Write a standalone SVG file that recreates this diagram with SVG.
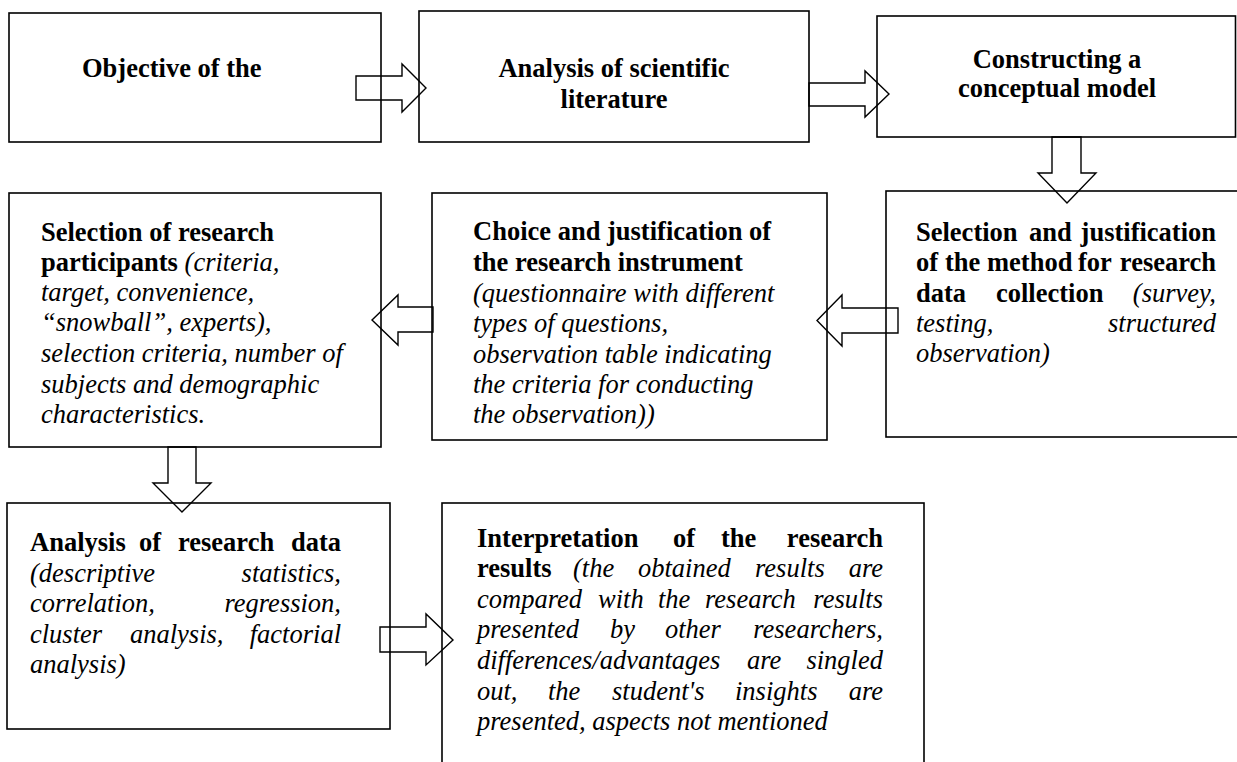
<svg xmlns="http://www.w3.org/2000/svg" width="1237" height="762" viewBox="0 0 1237 762">
<style>
.box{fill:#fff;stroke:#000;stroke-width:1.6}
.arr{fill:none;stroke:#000;stroke-width:1.4;stroke-linejoin:miter}
text{font-family:"Liberation Serif","Times New Roman",serif;font-size:26.5px;fill:#000}
.b{font-weight:bold}
.i{font-style:italic}
.m{text-anchor:middle}
.e{text-anchor:end}
</style>
<rect width="1237" height="762" fill="#fff"/>
<g id="n1"><rect class="box" x="9" y="13" width="372" height="129"/>
<text class="b" x="82" y="77">Objective of the</text></g>
<g id="n2"><rect class="box" x="419" y="11" width="390" height="131"/>
<text class="b m" x="614" y="77">Analysis of scientific</text>
<text class="b m" x="614" y="108">literature</text></g>
<g id="n3"><rect class="box" x="877" y="16" width="358.5" height="121"/>
<text class="b m" x="1057" y="68">Constructing a</text>
<text class="b m" x="1057" y="97">conceptual model</text></g>
<g id="n4"><rect class="box" x="886" y="191" width="361" height="246"/>
<text class="b" x="916" y="241">Selection</text><text class="b" x="1029" y="241">and</text><text class="b e" x="1216" y="241">justification</text>
<text class="b" x="916" y="271">of</text><text class="b" x="945" y="271">the</text><text class="b" x="987" y="271">method</text><text class="b" x="1078" y="271">for</text><text class="b e" x="1216" y="271">research</text>
<text class="b" x="916" y="302">data</text><text class="b" x="996" y="302">collection</text><text class="i e" x="1216" y="302">(survey,</text>
<text class="i" x="916" y="332">testing,</text><text class="i e" x="1216" y="332">structured</text>
<text class="i" x="916" y="362">observation)</text></g>
<g id="n5"><rect class="box" x="432" y="193" width="395" height="247"/>
<text class="b" x="473" y="240">Choice and justification of</text>
<text class="b" x="473" y="271">the research instrument</text>
<text class="i" x="473" y="302">(questionnaire with different</text>
<text class="i" x="473" y="332">types of questions,</text>
<text class="i" x="473" y="363">observation table indicating</text>
<text class="i" x="473" y="393">the criteria for conducting</text>
<text class="i" x="473" y="423">the observation))</text></g>
<g id="n6"><rect class="box" x="9" y="193" width="372" height="254"/>
<text class="b" x="41" y="241">Selection of research</text>
<text x="41" y="271"><tspan class="b">participants</tspan><tspan class="i"> (criteria,</tspan></text>
<text class="i" x="41" y="301">target, convenience,</text>
<text class="i" x="41" y="331">“snowball”, experts),</text>
<text class="i" x="41" y="362">selection criteria, number of</text>
<text class="i" x="41" y="393">subjects and demographic</text>
<text class="i" x="41" y="423">characteristics.</text></g>
<g id="n7"><rect class="box" x="7" y="503" width="383" height="226"/>
<text class="b" x="30" y="551">Analysis</text><text class="b" x="139" y="551">of</text><text class="b" x="178" y="551">research</text><text class="b e" x="341" y="551">data</text>
<text class="i" x="30" y="582">(descriptive</text><text class="i e" x="341" y="582">statistics,</text>
<text class="i" x="30" y="612">correlation,</text><text class="i e" x="341" y="612">regression,</text>
<text class="i" x="30" y="643">cluster</text><text class="i" x="130" y="643">analysis,</text><text class="i e" x="341" y="643">factorial</text>
<text class="i" x="30" y="673">analysis)</text></g>
<g id="n8"><rect class="box" x="442" y="503" width="482" height="270"/>
<text class="b" x="477" y="547">Interpretation</text><text class="b" x="673" y="547">of</text><text class="b" x="721" y="547">the</text><text class="b e" x="883" y="547">research</text>
<text class="b" x="477" y="577">results</text><text class="i" x="573" y="577">(the</text><text class="i" x="638" y="577">obtained</text><text class="i" x="755" y="577">results</text><text class="i e" x="883" y="577">are</text>
<text class="i" x="477" y="608">compared</text><text class="i" x="598" y="608">with</text><text class="i" x="658" y="608">the</text><text class="i" x="705" y="608">research</text><text class="i e" x="883" y="608">results</text>
<text class="i" x="477" y="638">presented</text><text class="i" x="610" y="638">by</text><text class="i" x="665" y="638">other</text><text class="i e" x="883" y="638">researchers,</text>
<text class="i" x="477" y="669">differences/advantages</text><text class="i" x="747" y="669">are</text><text class="i e" x="883" y="669">singled</text>
<text class="i" x="477" y="700">out,</text><text class="i" x="548" y="700">the</text><text class="i" x="612" y="700">student's</text><text class="i" x="735" y="700">insights</text><text class="i e" x="883" y="700">are</text>
<text class="i" x="477" y="730">presented, aspects not mentioned</text></g>
<g id="connectors">
<path class="arr" d="M356,76 H402 V64 L426,88 L402,112 V100 H356 Z"/>
<path class="arr" d="M809,83 H865 V71 L889,94 L865,117 V106 H809 Z"/>
<path class="arr" d="M1052,137 V173 H1038 L1067,203 L1096,173 H1081 V137 Z"/>
<path class="arr" d="M898,308 H842 V295 L817,320.5 L842,346 V333 H898 Z"/>
<path class="arr" d="M433,307 H398 V295 L372,320 L398,345 V332 H433 Z"/>
<path class="arr" d="M168,447 V483 H153 L182,512 L211,483 H196 V447 Z"/>
<path class="arr" d="M380,627 H426 V614 L453,640 L426,665 V652 H380 Z"/>
</g>
</svg>
